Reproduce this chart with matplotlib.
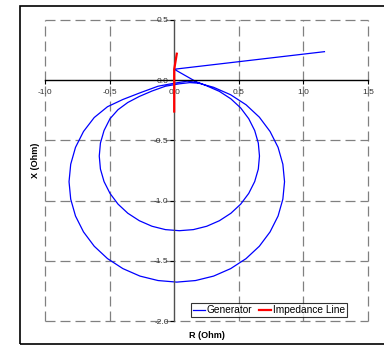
import matplotlib
matplotlib.use("Agg")
import matplotlib.pyplot as plt
from matplotlib.patches import Rectangle

plt.rcParams['font.family'] = ['Liberation Sans', 'DejaVu Sans']
plt.rcParams['lines.scale_dashes'] = False

# generator impedance trajectory (R, X in ohm): approach, outer loop, inner loop
gen_r = [1.163, 0.0, 0.19,
         # outer loop
         0.305, 0.437, 0.556, 0.659, 0.742, 0.804, 0.841, 0.854, 0.841, 0.804,
         0.742, 0.659, 0.556, 0.437, 0.305, 0.165, 0.02, -0.125, -0.265, -0.397,
         -0.516, -0.619, -0.702, -0.764, -0.801, -0.814, -0.801, -0.764, -0.702,
         -0.619, -0.516, -0.397, -0.265, -0.125, 0.0, 0.1, 0.19,
         # inner loop
         0.252, 0.35, 0.439, 0.515, 0.577, 0.623, 0.651, 0.66, 0.651, 0.623,
         0.577, 0.515, 0.439, 0.35, 0.252, 0.148, 0.04, -0.068, -0.172, -0.27,
         -0.359, -0.435, -0.497, -0.543, -0.571, -0.58, -0.571, -0.543, -0.497,
         -0.435, -0.359, -0.27, -0.172, -0.068, 0.04, 0.12, 0.19]
gen_x = [0.237, 0.091, -0.025,
         # outer loop
         -0.059, -0.121, -0.204, -0.307, -0.426, -0.558, -0.698, -0.843, -0.988, -1.128,
         -1.260, -1.379, -1.482, -1.565, -1.627, -1.664, -1.677, -1.664, -1.627, -1.565,
         -1.482, -1.379, -1.260, -1.128, -0.988, -0.843, -0.698, -0.558, -0.426,
         -0.31, -0.22, -0.16, -0.105, -0.05, -0.025, -0.008, -0.02,
         # inner loop
         -0.047, -0.093, -0.155, -0.231, -0.32, -0.418, -0.522, -0.63, -0.738, -0.842,
         -0.94, -1.029, -1.105, -1.167, -1.213, -1.241, -1.25, -1.241, -1.213, -1.167,
         -1.105, -1.029, -0.94, -0.842, -0.738, -0.63, -0.522, -0.418, -0.32,
         -0.245, -0.185, -0.135, -0.09, -0.05, -0.03, -0.02, -0.025]

# impedance line
line_r = [0.02, 0.0, 0.0]
line_x = [0.22, 0.09, -0.26]

x_ticks = [-1.0, -0.5, 0.0, 0.5, 1.0, 1.5]
y_ticks = [0.5, 0.0, -0.5, -1.0, -1.5, -2.0]

fig = plt.figure(figsize=(3.84, 3.46), dpi=100)
ax = fig.add_axes([45 / 384, 1 - 321 / 346, 323 / 384, 301 / 346])

# chart frame
fig.patches.append(Rectangle((20 / 384, 2 / 346), 420 / 384, 338 / 346,
                             transform=fig.transFigure, fill=False,
                             edgecolor='black', linewidth=1.2))

for v in x_ticks:
    if v != 0:
        ax.axvline(v, color='#808080', lw=0.9, ls=(0, (7.2, 3.6)), zorder=0, clip_on=False)
for v in y_ticks:
    if v != 0:
        ax.axhline(v, color='#808080', lw=0.9, ls=(0, (7.2, 3.6)), zorder=0, clip_on=False)

ax.plot(gen_r, gen_x, color='#0000ff', lw=0.9, label='Generator', zorder=3)
ax.plot(line_r, line_x, color='#ff0000', lw=1.6, label='Impedance Line', zorder=7)

ax.set_xlim(-1.0, 1.5)
ax.set_ylim(-2.0, 0.5)
ax.set_xticks(x_ticks)
ax.set_yticks(y_ticks)
ax.set_xticklabels([f"{v:.1f}" for v in x_ticks])
ax.set_yticklabels([f"{v:.1f}" for v in y_ticks])

ax.spines['left'].set_position('zero')
ax.spines['bottom'].set_position('zero')
ax.spines['left'].set_color('#505050')
ax.spines['left'].set_linewidth(1.0)
ax.spines['bottom'].set_color('black')
ax.spines['bottom'].set_linewidth(1.0)
ax.spines['top'].set_visible(False)
ax.spines['right'].set_visible(False)
ax.spines['left'].set_zorder(5)
ax.spines['bottom'].set_zorder(5)

ax.tick_params(axis='x', length=3, width=0.8, pad=3, labelsize=6, labelcolor='#333333')
ax.tick_params(axis='y', length=3, width=0.8, pad=1, labelsize=6, labelcolor='#333333')

fig.text(207 / 384, 1 - 336 / 346, 'R (Ohm)', ha='center', va='center',
         fontsize=6.5, fontweight='bold')
fig.text(35 / 384, 1 - 160 / 346, 'X (Ohm)', ha='center', va='center',
         rotation=90, fontsize=6.5, fontweight='bold')

leg = ax.legend(loc='lower right', bbox_to_anchor=(0.935, 0.013), ncol=2,
                fontsize=7.3, frameon=True, fancybox=False, borderaxespad=0,
                handlelength=1.2, handletextpad=0.2, columnspacing=0.6,
                borderpad=0.2)
leg.get_frame().set_edgecolor('black')
leg.get_frame().set_linewidth(0.8)
leg.set_zorder(8)

fig.savefig('out.png', dpi=100)
